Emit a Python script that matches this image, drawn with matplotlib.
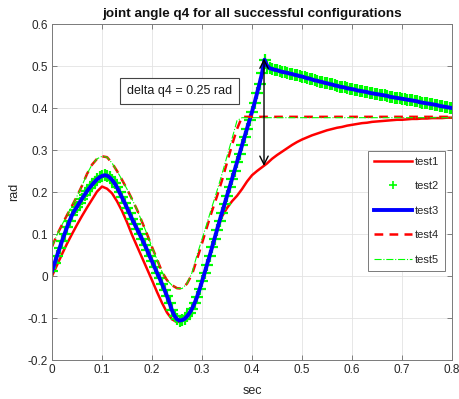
import numpy             as np
import matplotlib
matplotlib.use('Agg')
import matplotlib.pyplot as plt

plt.rcParams['font.family'] = ['Liberation Sans', 'DejaVu Sans']

# Data
# test2 / test3 share one dense time base (step 0.005 s)
t_fine = np.arange(161) * 0.005
test3 = [0.012, 0.030, 0.048, 0.066, 0.083, 0.100, 0.116, 0.131, 0.145, 0.156,
         0.165, 0.175, 0.184, 0.193, 0.202, 0.210, 0.217, 0.224, 0.230, 0.235,
         0.238, 0.240, 0.239, 0.235, 0.229, 0.221, 0.211, 0.199, 0.187, 0.175,
         0.162, 0.149, 0.136, 0.124, 0.112, 0.100, 0.088, 0.075, 0.062, 0.048,
         0.035, 0.021, 0.008, -0.005, -0.019, -0.033, -0.048, -0.064, -0.082, -0.095,
         -0.103, -0.106, -0.105, -0.102, -0.096, -0.088, -0.078, -0.065, -0.050, -0.032,
         -0.013, 0.007, 0.027, 0.047, 0.068, 0.089, 0.110, 0.131, 0.151, 0.171,
         0.191, 0.211, 0.231, 0.251, 0.271, 0.291, 0.311, 0.331, 0.351, 0.371,
         0.391, 0.412, 0.435, 0.458, 0.483, 0.515, 0.501, 0.495, 0.493, 0.491,
         0.490, 0.488, 0.486, 0.485, 0.484, 0.482, 0.481, 0.479, 0.478, 0.476,
         0.475, 0.473, 0.471, 0.470, 0.468, 0.466, 0.465, 0.463, 0.462, 0.460,
         0.459, 0.457, 0.456, 0.454, 0.453, 0.451, 0.450, 0.449, 0.447, 0.446,
         0.445, 0.444, 0.442, 0.441, 0.440, 0.439, 0.438, 0.436, 0.435, 0.434,
         0.433, 0.432, 0.431, 0.430, 0.429, 0.427, 0.426, 0.425, 0.424, 0.423,
         0.422, 0.421, 0.420, 0.419, 0.418, 0.417, 0.416, 0.414, 0.413, 0.412,
         0.411, 0.410, 0.409, 0.408, 0.407, 0.405, 0.404, 0.403, 0.402, 0.401,
         0.400]
test2 = test3

# test1 on a 0.01 s time base
t_coarse = np.arange(81) * 0.01
test1 = [0.000, 0.026, 0.052, 0.077, 0.100, 0.122, 0.143, 0.163, 0.182, 0.201,
         0.213, 0.208, 0.197, 0.178, 0.155, 0.128, 0.098, 0.071, 0.044, 0.017,
         -0.010, -0.038, -0.064, -0.087, -0.103, -0.110, -0.107, -0.097, -0.079, -0.052,
         -0.015, 0.025, 0.067, 0.108, 0.142, 0.162, 0.178, 0.191, 0.207, 0.225,
         0.240, 0.250, 0.259, 0.268, 0.279, 0.288, 0.296, 0.304, 0.312, 0.319,
         0.325, 0.330, 0.335, 0.339, 0.343, 0.347, 0.350, 0.353, 0.355, 0.358,
         0.360, 0.362, 0.364, 0.365, 0.367, 0.368, 0.369, 0.370, 0.371, 0.372,
         0.372, 0.373, 0.374, 0.374, 0.375, 0.375, 0.376, 0.376, 0.376, 0.377,
         0.377]

# test4 / test5 rise to a plateau, then stay flat to the end
t_plateau = [0.00, 0.01, 0.02, 0.03, 0.04, 0.05, 0.06, 0.07, 0.08, 0.09,
             0.10, 0.11, 0.12, 0.13, 0.14, 0.15, 0.16, 0.17, 0.18, 0.19,
             0.20, 0.21, 0.22, 0.23, 0.24, 0.25, 0.26, 0.27, 0.28, 0.29,
             0.30, 0.31, 0.32, 0.33, 0.34, 0.35, 0.36, 0.37, 0.38, 0.80]
test4 = [0.070, 0.098, 0.122, 0.145, 0.167, 0.190, 0.215, 0.243, 0.265, 0.279,
         0.285, 0.283, 0.269, 0.250, 0.229, 0.207, 0.183, 0.158, 0.129, 0.100,
         0.069, 0.040, 0.010, -0.010, -0.022, -0.029, -0.030, -0.018, 0.004, 0.040,
         0.078, 0.117, 0.155, 0.190, 0.228, 0.270, 0.312, 0.350, 0.379, 0.379]
test5 = [0.070, 0.098, 0.122, 0.145, 0.167, 0.190, 0.215, 0.243, 0.265, 0.279,
         0.285, 0.283, 0.269, 0.250, 0.229, 0.207, 0.183, 0.158, 0.129, 0.100,
         0.069, 0.040, 0.010, -0.010, -0.022, -0.029, -0.030, -0.018, 0.008, 0.050,
         0.088, 0.126, 0.165, 0.203, 0.243, 0.285, 0.327, 0.370, 0.377, 0.377]

arrow_t     = 0.424
arrow_range = (0.262, 0.518)
delta_text  = 'delta q4 = 0.25 rad'

x_ticks = [0, 0.1, 0.2, 0.3, 0.4, 0.5, 0.6, 0.7, 0.8]
y_ticks = [-0.2, -0.1, 0, 0.1, 0.2, 0.3, 0.4, 0.5, 0.6]

#   Figure setup
fig = plt.figure(figsize=(4.59, 3.99), dpi=100)
ax  = fig.add_axes([0.1133, 0.0977, 0.8715, 0.8421])

#       Plot data
ax.plot(t_coarse,  test1, color='r', lw=1.8, label='test1')
ax.plot(t_fine,    test2, color='#00ff00', ls='none', marker='+',
        ms=8.5, mew=1.6, label='test2')
ax.plot(t_fine,    test3, color='b', lw=2.8, label='test3')
ax.plot(t_plateau, test4, color='r', lw=1.8, dashes=(3.5, 2.5), label='test4')
ax.plot(t_plateau, test5, color='#00ff00', lw=0.8, ls='-.', label='test5')

#       Annotation
ax.annotate('', xy=(arrow_t, arrow_range[1]), xytext=(arrow_t, arrow_range[0]),
            arrowprops=dict(arrowstyle='<->,head_length=0.6,head_width=0.3',
                            color='k', lw=1.0, shrinkA=0, shrinkB=0))
ax.text(0.149, 0.44, delta_text, fontsize=9, va='center', ha='left',
        color='#1a1a1a',
        bbox=dict(boxstyle='square,pad=0.55', fc='white', ec='#444444', lw=0.8))

#       Axes styling
ax.set_xlim(0, 0.8)
ax.set_ylim(-0.2, 0.6)
ax.set_xticks(x_ticks)
ax.set_yticks(y_ticks)
ax.set_xticklabels(['0', '0.1', '0.2', '0.3', '0.4', '0.5', '0.6', '0.7', '0.8'])
ax.set_yticklabels(['-0.2', '-0.1', '0', '0.1', '0.2', '0.3', '0.4', '0.5', '0.6'])
ax.grid(True, color='#e3e3e3', lw=0.6)
ax.set_axisbelow(True)
ax.tick_params(direction='in', length=3.5, width=0.6, top=True, right=True,
               labelsize=8.5, colors='#6e6e6e', labelcolor='#262626', pad=3)
for spine in ax.spines.values():
    spine.set_color('#7a7a7a')
    spine.set_linewidth(0.7)

#       Add plot labels
ax.set_xlabel('sec', fontsize=9, color='#262626', labelpad=6)
ax.set_ylabel('rad', fontsize=9, color='#262626', labelpad=5)
ax.set_title('joint angle q4 for all successful configurations',
             fontsize=9.7, fontweight='bold', color='#111111', pad=5)

leg = ax.legend(loc='upper right', bbox_to_anchor=(0.983, 0.623),
                borderaxespad=0, fontsize=8, labelspacing=1.3,
                handlelength=3.4, handletextpad=0.3, borderpad=0.55,
                fancybox=False, framealpha=1, edgecolor='#7a7a7a')
leg.get_frame().set_linewidth(0.7)
leg.legend_handles[1].set_markersize(6)
leg.legend_handles[1].set_markeredgewidth(1.2)
for text in leg.get_texts():
    text.set_color('#262626')

fig.savefig('out.png', dpi=100)
